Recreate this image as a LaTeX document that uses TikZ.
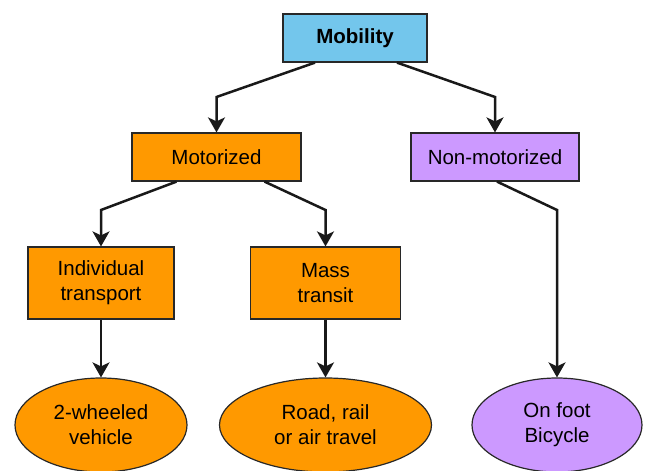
\documentclass[tikz,border=0pt]{standalone}
\usepackage{fontspec}
\setmainfont{Liberation Sans}
\usetikzlibrary{arrows.meta,shapes.geometric}
\definecolor{mobblue}{RGB}{115,198,236}
\definecolor{motorange}{RGB}{255,153,0}
\definecolor{nonpurple}{RGB}{204,153,255}
\definecolor{edgegray}{RGB}{40,40,40}
\tikzset{
  box/.style={draw=edgegray, line width=1.2pt, inner sep=0pt, align=center,
    font=\fontsize{20.5}{25}\selectfont},
  oval/.style={ellipse, draw=edgegray, line width=1.2pt, inner sep=0pt, align=center,
    font=\fontsize{20.5}{25}\selectfont},
  arr/.style={draw=black!90, line width=2.5pt, line join=miter,
    -{Stealth[length=15pt, width=17pt, inset=4pt]}}
}
\begin{document}
\begin{tikzpicture}[x=1pt, y=-1pt]
\useasboundingbox (0,0) rectangle (649,471);
\fill[white] (0,0) rectangle (649,471);
% nodes
\node[box, fill=mobblue, minimum width=144pt, minimum height=48pt, font=\fontsize{20.5}{25}\selectfont\bfseries] (mob) at (355,38) {Mobility};
\node[box, fill=motorange, minimum width=169pt, minimum height=48pt] (mot) at (216.5,157) {Motorized};
\node[box, fill=nonpurple, minimum width=168pt, minimum height=48pt] (non) at (495,157) {Non-motorized};
\node[box, fill=motorange, minimum width=146pt, minimum height=72pt] (ind) at (101,283) {Individual\\transport};
\node[box, fill=motorange, minimum width=150pt, minimum height=72pt] (mass) at (325.5,283) {Mass\\transit};
\node[oval, fill=motorange, minimum width=172pt, minimum height=94pt] (two) at (101,425) {2-wheeled\\vehicle};
\node[oval, fill=motorange, minimum width=212pt, minimum height=94pt] (road) at (325.5,425) {Road, rail\\or air travel};
\node[oval, fill=nonpurple, minimum width=170pt, minimum height=94pt] (foot) at (557,425) {On foot\\Bicycle};
% connectors
\draw[arr] ([xshift=-40pt]mob.south) -- (mot.north |- 0,97) -- (mot.north);
\draw[arr] ([xshift=42pt]mob.south) -- (non.north |- 0,97) -- (non.north);
\draw[arr] ([xshift=-40pt]mot.south) -- (ind.north |- 0,210) -- (ind.north);
\draw[arr] ([xshift=48pt]mot.south) -- (mass.north |- 0,210) -- (mass.north);
\draw[arr] ([xshift=2pt]non.south) -- (foot.north |- 0,210) -- (foot.north);
\draw[arr] (ind.south) -- (two.north);
\draw[arr] (mass.south) -- (road.north);
\end{tikzpicture}
\end{document}
